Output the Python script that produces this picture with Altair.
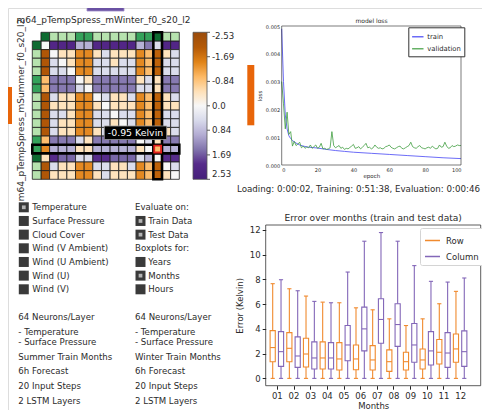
import json
import altair as alt
import pandas as pd

FONT = "DejaVu Sans"

# ---------------- data ----------------
heat_title = "m64_pTempSpress_mWinter_f0_s20_l2"
heat_side_title = "m64_pTempSpress_mSummer_f0_s20_l2"

diff_matrix = [
    [0.0, 2.1, 2.1, 2.1, 0.95, 0.95, 2.1, 2.1, 2.1, 2.1, 2.1, 0.95, 1.45, 0.45, 2.1, 2.1],
    [-2.1, 0.0, -0.45, -0.45, -1.45, -1.45, -0.45, 0.45, -0.45, -0.45, -0.45, -1.45, -0.95, -1.9, -0.45, 0.45],
    [-2.1, 0.45, 0.0, -0.45, -1.45, -1.45, 0.45, 0.45, -0.45, 0.45, 0.45, -1.45, -0.95, -1.9, 0.45, 0.45],
    [-2.1, 0.45, 0.45, 0.0, -1.45, -1.45, 0.45, 0.45, 0.45, 0.45, 0.45, -1.45, -0.95, -1.9, 0.45, 0.45],
    [-0.95, 1.45, 1.45, 1.45, 0.0, -0.45, 1.45, 1.45, 1.45, 1.45, 1.45, -0.45, 0.45, -0.45, 1.45, 1.45],
    [-0.95, 1.45, 1.45, 1.45, 0.45, 0.0, 1.45, 1.45, 1.45, 1.45, 1.45, 0.45, 0.45, -0.45, 1.45, 1.45],
    [-2.1, 0.45, -0.45, -0.45, -1.45, -1.45, 0.0, 0.45, -0.45, -0.45, 0.45, -1.45, -0.95, -1.9, -0.45, 0.45],
    [-2.1, -0.45, -0.45, -0.45, -1.45, -1.45, -0.45, 0.0, -0.45, -0.45, -0.45, -1.45, -0.95, -1.9, -0.45, -0.45],
    [-2.1, 0.45, 0.45, -0.45, -1.45, -1.45, 0.45, 0.45, 0.0, 0.45, 0.45, -1.45, -0.95, -1.9, 0.45, 0.45],
    [-2.1, 0.45, -0.45, -0.45, -1.45, -1.45, 0.45, 0.45, -0.45, 0.0, 0.45, -1.45, -0.95, -1.9, 0.45, 0.45],
    [-2.1, 0.45, -0.45, -0.45, -1.45, -1.45, -0.45, 0.45, -0.45, -0.45, 0.0, -1.45, -0.95, -1.9, -0.45, 0.45],
    [-0.95, 1.45, 1.45, 1.45, 0.45, -0.45, 1.45, 1.45, 1.45, 1.45, 1.45, 0.0, 0.45, -0.45, 1.45, 1.45],
    [-1.45, 0.95, 0.95, 0.95, -0.45, -0.45, 0.95, 0.95, 0.95, 0.95, 0.95, -0.45, 0.0, -0.95, 0.95, 0.95],
    [-0.45, 2.0, 1.6, 1.6, 0.45, 0.45, 2.0, 2.0, 1.6, 1.6, 1.6, 0.45, 0.95, 0.0, 2.0, 2.0],
    [-2.1, 0.45, -0.45, -0.45, -1.45, -1.45, 0.45, 0.45, -0.45, -0.45, 0.45, -1.45, -0.95, -1.9, 0.0, 0.45],
    [-2.1, -0.45, -0.45, -0.45, -1.45, -1.45, -0.45, 0.45, -0.45, -0.45, -0.45, -1.45, -0.95, -1.9, -0.45, 0.0],
]
model_groups = ["dark", "light", "light", "light", "mid", "mid", "light", "light",
                "light", "light", "light", "mid", "mid", "dark", "light", "light"]
selected_row = 12
selected_col = 13
tooltip_label = "-0.95 Kelvin"
cbar_ticks = [-2.53, -1.69, -0.84, 0.0, 0.84, 1.69, 2.53]

val_loss = [
    0.0030, 0.0022, 0.0013, 0.0019, 0.0011, 0.0012, 0.00068, 0.00085, 0.00070, 0.00075,
    0.00082, 0.00062, 0.00068, 0.00060, 0.00065, 0.00062, 0.00072, 0.00060, 0.00066, 0.00072,
    0.00060, 0.00064, 0.00078, 0.00058, 0.00060, 0.00056, 0.00058, 0.00062, 0.00120, 0.00070,
    0.00062, 0.00066, 0.00070, 0.00060, 0.00064, 0.00056, 0.00060, 0.00058, 0.00063, 0.00068,
    0.00074, 0.00060, 0.00062, 0.00066, 0.00058, 0.00064, 0.00070, 0.00078, 0.00062, 0.00064,
    0.00058, 0.00062, 0.00072, 0.00064, 0.00060, 0.00062, 0.00058, 0.00060, 0.00066, 0.00068,
    0.00072, 0.00064, 0.00060, 0.00058, 0.00062, 0.00066, 0.00068, 0.00060, 0.00058, 0.00062,
    0.00066, 0.00070, 0.00082, 0.00066, 0.00062, 0.00060, 0.00066, 0.00070, 0.00062, 0.00060,
    0.00058, 0.00062, 0.00064, 0.00060, 0.00068, 0.00062, 0.00058, 0.00060, 0.00072, 0.00064,
    0.00066, 0.00082, 0.00068, 0.00060, 0.00062, 0.00070, 0.00066, 0.00068, 0.00072, 0.00070,
    0.00070,
]
train_epochs = [0, 1, 2, 3, 4, 5, 6, 7, 8, 10, 12, 15, 20, 25, 30, 35, 40, 50, 60, 70, 80, 90, 100]
train_loss = [0.0049, 0.0030, 0.0018, 0.0013, 0.00105, 0.00095, 0.00088, 0.00083, 0.00079, 0.00072,
              0.00068, 0.00064, 0.00061, 0.00056, 0.00052, 0.00049, 0.00046, 0.00042, 0.00038,
              0.00034, 0.00030, 0.00026, 0.00023]

months = ["01", "02", "03", "04", "05", "06", "07", "08", "09", "10", "11", "12"]
row_lo = [0, 0, 0, 0, 0, 0, 0, 0, 0, 0, 0, 0]
row_q1 = [1.35, 1.35, 0.92, 0.76, 0.68, 0.70, 0.68, 0.57, 0.68, 0.76, 1.16, 1.30]
row_med = [2.49, 2.43, 1.97, 1.65, 1.57, 1.57, 1.49, 1.35, 1.35, 1.49, 2.11, 2.38]
row_q3 = [3.86, 3.70, 3.24, 2.95, 2.89, 2.70, 2.65, 2.30, 2.11, 2.38, 3.14, 3.59]
row_hi = [7.65, 7.24, 6.65, 6.16, 6.11, 5.70, 5.54, 4.81, 4.27, 4.81, 6.03, 7.03]
col_lo = [0, 0, 0, 0, 0, 0, 0, 0, 0, 0, 0, 0]
col_q1 = [0.97, 0.89, 0.76, 0.76, 1.43, 2.22, 2.84, 2.59, 1.30, 1.08, 0.89, 0.97]
col_med = [2.16, 1.81, 1.65, 1.65, 2.70, 4.00, 4.76, 4.35, 2.70, 2.22, 2.05, 2.16]
col_q3 = [3.78, 3.35, 2.95, 2.89, 4.27, 5.76, 6.43, 6.03, 4.43, 3.78, 3.70, 3.84]
col_hi = [7.97, 7.08, 6.22, 6.11, 8.59, 11.08, 11.78, 11.08, 9.11, 7.84, 7.78, 8.11]

feature_items = ["Temperature", "Surface Pressure", "Cloud Cover", "Wind (V Ambient)",
                 "Wind (U Ambient)", "Wind (U)", "Wind (V)"]
feature_checked = [True, False, False, False, False, False, False]
option_items = ["Evaluate on:", "Train Data", "Test Data", "Boxplots for:", "Years", "Months", "Hours"]
option_has_box = [False, True, True, False, True, True, True]
option_checked = [False, True, True, False, False, True, False]
model_left = ["64 Neurons/Layer", "- Temperature", "- Surface Pressure", "Summer Train Months",
              "6h Forecast", "20 Input Steps", "2 LSTM Layers"]
model_right = ["64 Neurons/Layer", "- Temperature", "- Surface Pressure", "Winter Train Months",
               "6h Forecast", "20 Input Steps", "2 LSTM Layers"]
timing_text = "Loading: 0:00:02, Training: 0:51:38, Evaluation: 0:00:46"

# ---------------- styling / layout (canvas px) ----------------
W, H = 474, 402
TXT = "#2b2b2b"
group_colors = {"dark": "#0e6b31", "mid": "#35a25b", "light": "#b6e2ae"}
# colour scale on the flipped value (so that the vertical legend shows orange on top)
pu_dom = [-2.53, -2.024, -1.518, -1.012, -0.506, 0.0, 0.506, 1.012, 1.518, 2.024, 2.53]
pu_rng = ["#45207a", "#542788", "#8073ac", "#b2abd2", "#d8daeb", "#f7f7f7",
          "#fee0b6", "#fdb863", "#e08214", "#b35806", "#9a4b0b"]
ORANGE = "#f08a2e"
PURPLE = "#8367b8"

one = pd.DataFrame({"k": [0]})

# ---------------- heatmap ----------------
hx = alt.Scale(domain=[-1, 16], range=[24.3, 171.3], nice=False, zero=False)
hy = alt.Scale(domain=[-1, 16], range=[24.3, 171.3], nice=False, zero=False)

cells = pd.DataFrame([{"r": i, "c": j, "v": diff_matrix[i][j]}
                      for i in range(16) for j in range(16)])
cell_layer = alt.Chart(cells).transform_calculate(
    c2="datum.c + 1", r2="datum.r + 1", w="-datum.v"
).mark_rect(stroke="#1c1c1c", strokeWidth=0.8).encode(
    x=alt.X("c:Q", scale=hx, axis=None), x2="c2:Q",
    y=alt.Y("r:Q", scale=hy, axis=None), y2="r2:Q",
    color=alt.Color("w:Q", scale=alt.Scale(domain=pu_dom, range=pu_rng),
                    legend=alt.Legend(orient="none", legendX=185, legendY=24.3,
                                      direction="vertical", gradientLength=147,
                                      gradientThickness=14, title=None, values=cbar_ticks,
                                      labelExpr="datum.value === 0 ? '0.0' : '' + (-datum.value)",
                                      labelFontSize=8.6, labelOffset=5, labelOverlap=False,
                                      labelBaseline="middle", labelColor=TXT,
                                      gradientStrokeColor="#555", gradientStrokeWidth=0.8,
                                      padding=0)),
)

hdr = pd.DataFrame(
    [{"c": -1, "r": i, "hex": group_colors[g]} for i, g in enumerate(model_groups)]
    + [{"c": i, "r": -1, "hex": group_colors[g]} for i, g in enumerate(model_groups)]
)
header_layer = alt.Chart(hdr).transform_calculate(
    c2="datum.c + 1", r2="datum.r + 1"
).mark_rect(stroke="#1c1c1c", strokeWidth=0.8).encode(
    x=alt.X("c:Q", scale=hx, axis=None), x2="c2:Q",
    y=alt.Y("r:Q", scale=hy, axis=None), y2="r2:Q",
    fill=alt.Fill("hex:N", scale=None),
)

sel_boxes = pd.DataFrame([
    {"c": selected_col, "c2": selected_col + 1, "r": -1, "r2": 16},
    {"c": -1, "c2": 16, "r": selected_row, "r2": selected_row + 1},
])
sel_layer = alt.Chart(sel_boxes).mark_rect(fillOpacity=0, stroke="black", strokeWidth=2.6).encode(
    x=alt.X("c:Q", scale=hx, axis=None), x2="c2:Q",
    y=alt.Y("r:Q", scale=hy, axis=None), y2="r2:Q",
)
sel_cell = pd.DataFrame([{"c": selected_col, "r": selected_row}])
red_layer = alt.Chart(sel_cell).transform_calculate(
    c0="datum.c + 0.1", c2="datum.c + 0.9", r0="datum.r + 0.1", r2="datum.r + 0.9"
).mark_rect(fillOpacity=0, stroke="#e3201c", strokeWidth=1.8).encode(
    x=alt.X("c0:Q", scale=hx, axis=None), x2="c2:Q",
    y=alt.Y("r0:Q", scale=hy, axis=None), y2="r2:Q",
)
tip_df = pd.DataFrame({"t": [tooltip_label]})
tip_box = alt.Chart(tip_df).mark_rect(color="black", stroke="#9a9a9a", strokeWidth=0.8).encode(
    x=alt.value(96.3), x2=alt.value(158.7), y=alt.value(118), y2=alt.value(131.5))
tip_text = alt.Chart(tip_df).mark_text(color="white", fontSize=9.4, font=FONT).encode(
    text="t:N", x=alt.value(127.5), y=alt.value(125))

heatmap = alt.layer(cell_layer, header_layer, sel_layer, red_layer, tip_box, tip_text)

# colorbar tick marks
cbar_tick_layer = alt.Chart(pd.DataFrame({"v": cbar_ticks})).mark_rule(color="#333", strokeWidth=0.8).encode(
    y=alt.Y("v:Q", scale=alt.Scale(domain=[-2.53, 2.53], range=[24.3, 171.3], nice=False, zero=False), axis=None),
    x=alt.value(199), x2=alt.value(202),
)

titles = pd.DataFrame({"t": [heat_title], "s": [heat_side_title]})
heat_title_layer = alt.Chart(titles).mark_text(fontSize=9, font=FONT, color=TXT).encode(
    text="t:N", x=alt.value(95.5), y=alt.value(12))
heat_side_layer = alt.Chart(titles).mark_text(fontSize=9, font=FONT, color=TXT, angle=270).encode(
    text="s:N", x=alt.value(13), y=alt.value(102))

# indicator bars
purple_bar = alt.Chart(one).mark_rect(color="#6a51a3", stroke="#9d8cc8", strokeWidth=0.8).encode(
    x=alt.value(79), x2=alt.value(116), y=alt.value(-4), y2=alt.value(3))
orange_bar_l = alt.Chart(one).mark_rect(color="#e8650a").encode(
    x=alt.value(-5), x2=alt.value(4), y=alt.value(79), y2=alt.value(116))
orange_bar_r = alt.Chart(one).mark_rect(color="#e8650a").encode(
    x=alt.value(239.3), x2=alt.value(246.3), y=alt.value(57), y2=alt.value(117.3))

# ---------------- loss chart ----------------
lx = alt.Scale(domain=[0, 100], range=[273.7, 453], nice=False, zero=False)
ly = alt.Scale(domain=[0, 0.005], range=[157, 18], nice=False, zero=False)
loss_df = pd.concat([
    pd.DataFrame({"epoch": train_epochs, "loss": train_loss, "series": "train"}),
    pd.DataFrame({"epoch": list(range(len(val_loss))), "loss": val_loss, "series": "validation"}),
])
loss_x_axis = alt.Axis(orient="bottom", offset=157 - H, values=[0, 20, 40, 60, 80, 100],
                       ticks=False, domain=False, grid=False, labelFontSize=5, labelPadding=2,
                       labelColor=TXT, title="epoch", titleFontSize=5.5,
                       titleFontWeight="normal", titlePadding=1, titleColor=TXT)
loss_y_axis = alt.Axis(orient="left", offset=-273.7,
                       values=[0, 0.001, 0.002, 0.003, 0.004, 0.005], format=".3f",
                       ticks=False, domain=False, grid=False, labelFontSize=5, labelPadding=2,
                       labelColor=TXT, title="loss", titleFontSize=5.5,
                       titleFontWeight="normal", titlePadding=3, titleColor=TXT)
loss_lines = alt.Chart(loss_df).mark_line(strokeWidth=0.8).encode(
    x=alt.X("epoch:Q", scale=lx, axis=loss_x_axis),
    y=alt.Y("loss:Q", scale=ly, axis=loss_y_axis),
    color=alt.Color("series:N", scale=alt.Scale(domain=["train", "validation"],
                                                range=["#4646f5", "#3f9d3f"]),
                    legend=alt.Legend(orient="none", legendX=400.3, legendY=19.3, title=None,
                                      symbolType="stroke", symbolSize=130, symbolStrokeWidth=1.2,
                                      labelFontSize=6.8, labelColor=TXT, rowPadding=1,
                                      padding=3, strokeColor="#333", fillColor="white",
                                      labelOffset=3)),
    order="epoch:Q",
)
loss_frame = alt.Chart(pd.DataFrame({"x0": [0], "x1": [100], "y0": [0.0], "y1": [0.005]})).mark_rect(
    fillOpacity=0, stroke="#222", strokeWidth=0.6).encode(
    x=alt.X("x0:Q", scale=lx, axis=loss_x_axis), x2="x1:Q",
    y=alt.Y("y0:Q", scale=ly, axis=loss_y_axis), y2="y1:Q")
loss_title = alt.Chart(pd.DataFrame({"t": ["model loss"]})).mark_text(fontSize=6, font=FONT, color=TXT).encode(
    text="t:N", x=alt.value(363.5), y=alt.value(13))
loss_chart = alt.layer(loss_lines, loss_frame)

timing_layer = alt.Chart(pd.DataFrame({"t": [timing_text]})).mark_text(
    fontSize=8.7, font=FONT, color=TXT, align="left").encode(
    text="t:N", x=alt.value(229), y=alt.value(181))

# ---------------- boxplot chart ----------------
bx = alt.Scale(domain=[-0.84, 24.97], range=[257.7, 472.7], nice=False, zero=False)
by = alt.Scale(domain=[-0.59, 12.39], range=[377.7, 217], nice=False, zero=False)
rows = []
for m in range(12):
    rows.append({"pos": 2 * m, "series": "Row", "lo": row_lo[m], "q1": row_q1[m],
                 "med": row_med[m], "q3": row_q3[m], "hi": row_hi[m]})
    rows.append({"pos": 2 * m + 1, "series": "Column", "lo": col_lo[m], "q1": col_q1[m],
                 "med": col_med[m], "q3": col_q3[m], "hi": col_hi[m]})
box_df = pd.DataFrame(rows)
month_expr = json.dumps(months) + "[floor(datum.value / 2)]"
box_legend = alt.Legend(orient="none", legendX=412, legendY=220, title=None,
                        symbolType="stroke", symbolSize=225, symbolStrokeWidth=1.5,
                        labelFontSize=8.5, labelColor=TXT, rowPadding=3, padding=4,
                        strokeColor="#d4d4d4", fillColor="white", cornerRadius=2, labelOffset=5)
stroke_enc = alt.Stroke("series:N", scale=alt.Scale(domain=["Row", "Column"], range=[ORANGE, PURPLE]),
                        legend=box_legend)
base_box = alt.Chart(box_df).transform_calculate(
    bl="datum.pos - 0.31", br="datum.pos + 0.31", cl="datum.pos - 0.25", cr="datum.pos + 0.25")

box_rect = base_box.mark_rect(fillOpacity=0, strokeWidth=1.1).encode(
    x=alt.X("bl:Q", scale=bx,
            axis=alt.Axis(orient="bottom", offset=377.7 - H,
                          values=[0.5 + 2 * m for m in range(12)], labelExpr=month_expr,
                          tickSize=3.5, tickColor="#222", domain=False, grid=False,
                          labelFontSize=8.5, labelColor=TXT, labelPadding=2,
                          title="Months", titleFontSize=8.5, titleFontWeight="normal",
                          titleColor=TXT, titlePadding=2)),
    x2="br:Q",
    y=alt.Y("q1:Q", scale=by,
            axis=alt.Axis(orient="left", offset=-257.7, values=[0, 2, 4, 6, 8, 10, 12],
                          format="d", tickSize=3.5, tickColor="#222", domain=False, grid=False,
                          labelFontSize=8.5, labelColor=TXT, labelPadding=2,
                          title="Error (Kelvin)", titleFontSize=8.5, titleFontWeight="normal",
                          titleColor=TXT, titlePadding=5)),
    y2="q3:Q",
    stroke=stroke_enc,
)
whisk_lo = base_box.mark_rule(strokeWidth=1.1).encode(
    x=alt.X("pos:Q", scale=bx), y=alt.Y("lo:Q", scale=by), y2="q1:Q", stroke=stroke_enc)
whisk_hi = base_box.mark_rule(strokeWidth=1.1).encode(
    x=alt.X("pos:Q", scale=bx), y=alt.Y("q3:Q", scale=by), y2="hi:Q", stroke=stroke_enc)
cap_lo = base_box.mark_rule(strokeWidth=1.1).encode(
    x=alt.X("cl:Q", scale=bx), x2="cr:Q", y=alt.Y("lo:Q", scale=by), stroke=stroke_enc)
cap_hi = base_box.mark_rule(strokeWidth=1.1).encode(
    x=alt.X("cl:Q", scale=bx), x2="cr:Q", y=alt.Y("hi:Q", scale=by), stroke=stroke_enc)
med_line = base_box.mark_rule(strokeWidth=1.1).encode(
    x=alt.X("bl:Q", scale=bx), x2="br:Q", y=alt.Y("med:Q", scale=by), stroke=stroke_enc)
box_frame = alt.Chart(pd.DataFrame({"x0": [-0.84], "x1": [24.97], "y0": [-0.59], "y1": [12.39]})).mark_rect(
    fillOpacity=0, stroke="#333", strokeWidth=0.8).encode(
    x=alt.X("x0:Q", scale=bx), x2="x1:Q", y=alt.Y("y0:Q", scale=by), y2="y1:Q")
box_chart = alt.layer(box_rect, whisk_lo, whisk_hi, cap_lo, cap_hi, med_line, box_frame)
box_title = alt.Chart(pd.DataFrame({"t": ["Error over months (train and test data)"]})).mark_text(
    fontSize=9.1, font=FONT, color=TXT).encode(text="t:N", x=alt.value(365.2), y=alt.value(209.7))

# ---------------- control panel texts ----------------
slot = alt.Scale(domain=[0, 6], range=[199.3, 281.3], nice=False, zero=False)
feat_df = pd.DataFrame({"label": feature_items, "checked": feature_checked,
                        "i": list(range(len(feature_items)))})
opt_df = pd.DataFrame({"label": option_items, "box": option_has_box, "checked": option_checked,
                       "i": list(range(len(option_items)))})

def boxes(df, xc):
    sq = alt.Chart(df).mark_square(size=100, color="#3a3a3a", opacity=1).encode(
        y=alt.Y("i:Q", scale=slot, axis=None), x=alt.value(xc))
    inner = alt.Chart(df).transform_filter("datum.checked").mark_square(
        size=14, color="#b4b4b4", opacity=1).encode(
        y=alt.Y("i:Q", scale=slot, axis=None), x=alt.value(xc))
    return sq, inner

f_sq, f_in = boxes(feat_df, 15.8)
f_txt = alt.Chart(feat_df).mark_text(align="left", fontSize=8.6, font=FONT, color=TXT).encode(
    text="label:N", y=alt.Y("i:Q", scale=slot, axis=None), x=alt.value(24.3))
opt_box_df = opt_df[opt_df["box"]]
o_sq, o_in = boxes(opt_box_df, 132.5)
o_txt_box = alt.Chart(opt_box_df).mark_text(align="left", fontSize=8.6, font=FONT, color=TXT).encode(
    text="label:N", y=alt.Y("i:Q", scale=slot, axis=None), x=alt.value(140.3))
o_txt_lab = alt.Chart(opt_df[~opt_df["box"]]).mark_text(align="left", fontSize=8.6, font=FONT, color=TXT).encode(
    text="label:N", y=alt.Y("i:Q", scale=slot, axis=None), x=alt.value(127))
panel_a = alt.layer(f_sq, f_in, f_txt, o_sq, o_in, o_txt_box, o_txt_lab)

desc_y = [308.7, 323.7, 333.7, 348.7, 363, 377.7, 393]
desc_scale = alt.Scale(domain=list(range(7)), range=desc_y, nice=False, zero=False)
desc_df = pd.DataFrame({"left": model_left, "right": model_right, "i": list(range(7))})
d_left = alt.Chart(desc_df).mark_text(align="left", fontSize=8.6, font=FONT, color=TXT).encode(
    text="left:N", y=alt.Y("i:Q", scale=desc_scale, axis=None), x=alt.value(10.3))
d_right = alt.Chart(desc_df).mark_text(align="left", fontSize=8.6, font=FONT, color=TXT).encode(
    text="right:N", y=alt.Y("i:Q", scale=desc_scale, axis=None), x=alt.value(127))
panel_b = alt.layer(d_left, d_right)

chart = alt.layer(
    heatmap, cbar_tick_layer, heat_title_layer, heat_side_layer,
    purple_bar, orange_bar_l, orange_bar_r,
    loss_chart, loss_title, timing_layer,
    box_chart, box_title,
    panel_a, panel_b,
).resolve_scale(
    x="independent", y="independent", color="independent", stroke="independent", fill="independent"
).resolve_axis(x="independent", y="independent").resolve_legend(
    color="independent", stroke="independent"
).properties(
    width=W, height=H, autosize=alt.AutoSizeParams(type="none"), padding=0
).configure_view(stroke=None).configure(font=FONT)

chart.save("out.html", embed_options={"renderer": "svg", "actions": False})
